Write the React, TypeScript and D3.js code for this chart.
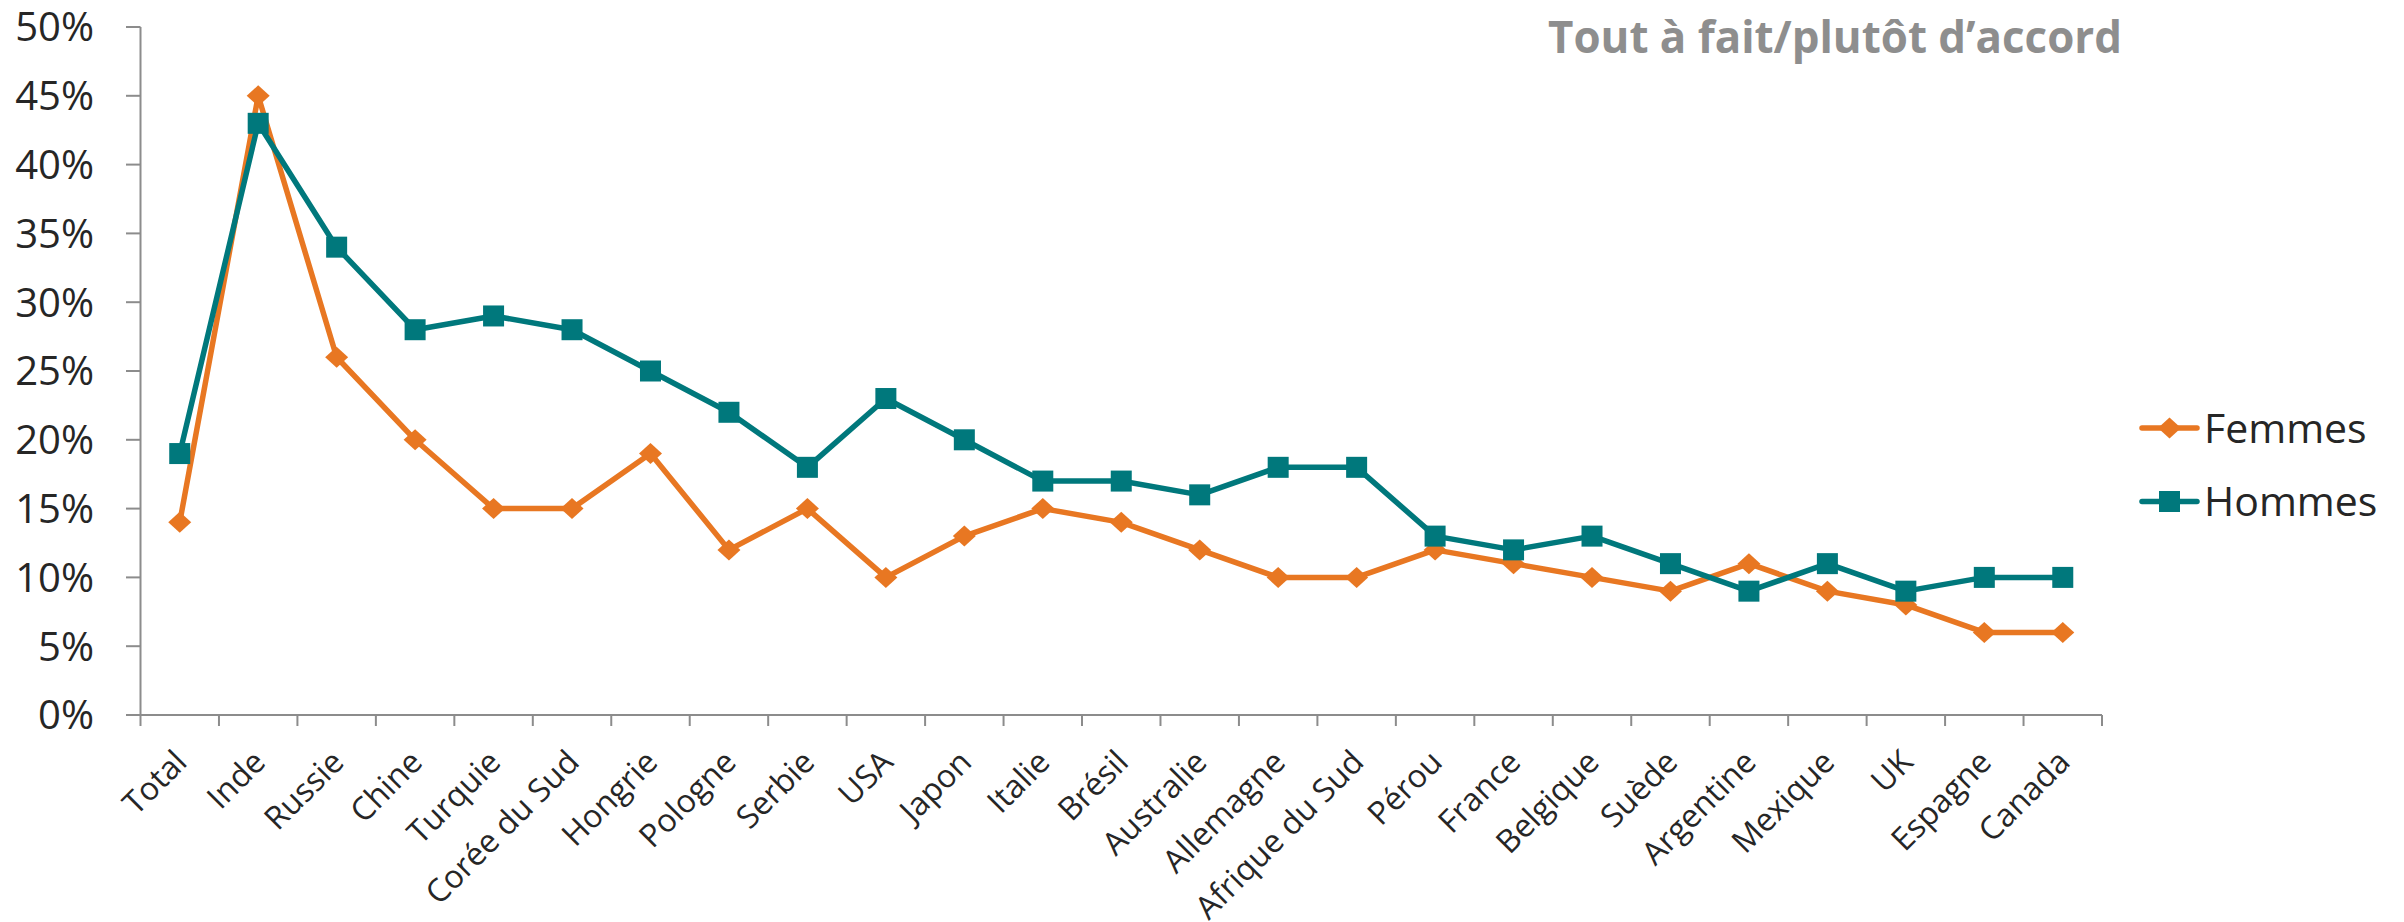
import * as d3 from "d3";

const categories = [
  "Total", "Inde", "Russie", "Chine", "Turquie", "Corée du Sud", "Hongrie",
  "Pologne", "Serbie", "USA", "Japon", "Italie", "Brésil", "Australie",
  "Allemagne", "Afrique du Sud", "Pérou", "France", "Belgique", "Suède",
  "Argentine", "Mexique", "UK", "Espagne", "Canada",
];

const femmes = [14, 45, 26, 20, 15, 15, 19, 12, 15, 10, 13, 15, 14, 12, 10, 10, 12, 11, 10, 9, 11, 9, 8, 6, 6];
const hommes = [19, 43, 34, 28, 29, 28, 25, 22, 18, 23, 20, 17, 17, 16, 18, 18, 13, 12, 13, 11, 9, 11, 9, 10, 10];

const yTicks = [0, 5, 10, 15, 20, 25, 30, 35, 40, 45, 50];

const title = "Tout à fait/plutôt d’accord";

const ORANGE = "#E87722";
const TEAL = "#00787C";
const AXIS = "#8C8C8C";
const TEXT = "#262626";
const FONT = "'Open Sans', 'Noto Sans', sans-serif";

const width = 2404;
const height = 922;
const left = 140.5;
const right = 2102;
const top = 27;
const bottom = 715;

function diamond(cx: number, cy: number, r: number) {
  return `M${cx},${cy - r}L${cx + r + 1},${cy}L${cx},${cy + r}L${cx - r - 1},${cy}Z`;
}

export default function App() {
  const x = d3.scaleBand<string>().domain(categories).range([left, right]).padding(0);
  const y = d3.scaleLinear().domain([0, 50]).range([bottom, top]);
  const cx = (c: string) => (x(c) ?? 0) + x.bandwidth() / 2;

  const line = d3
    .line<number>()
    .x((_, i) => cx(categories[i]))
    .y((d) => y(d));

  const series = [
    { name: "Femmes", values: femmes, color: ORANGE, shape: "diamond" },
    { name: "Hommes", values: hommes, color: TEAL, shape: "square" },
  ];

  const bounds = categories.map((c) => x(c) ?? 0).concat([right]);

  return (
    <svg
      width={width}
      height={height}
      style={{ position: "absolute", left: 0, top: 0, background: "#fff" }}
      fontFamily={FONT}
    >
      {/* y axis */}
      <line x1={left} x2={left} y1={top} y2={bottom} stroke={AXIS} strokeWidth={2} />
      {yTicks.map((t) => (
        <g key={t}>
          <line x1={126} x2={left} y1={y(t)} y2={y(t)} stroke={AXIS} strokeWidth={2} />
          <text x={94} y={y(t)} dy="0.36em" textAnchor="end" fontSize={40} fill={TEXT}>
            {t}%
          </text>
        </g>
      ))}

      {/* x axis */}
      <line x1={left} x2={right} y1={bottom} y2={bottom} stroke={AXIS} strokeWidth={2} />
      {bounds.map((b, i) => (
        <line key={i} x1={b} x2={b} y1={bottom} y2={bottom + 11} stroke={AXIS} strokeWidth={2} />
      ))}
      {categories.map((c) => (
        <text
          key={c}
          transform={`translate(${cx(c) + 9},${764}) rotate(-45)`}
          textAnchor="end"
          fontSize={32}
          fill={TEXT}
        >
          {c}
        </text>
      ))}

      {/* series */}
      {series.map((s) => (
        <g key={s.name}>
          <path d={line(s.values) ?? ""} fill="none" stroke={s.color} strokeWidth={5.5} strokeLinejoin="round" />
          {s.values.map((v, i) =>
            s.shape === "square" ? (
              <rect key={i} x={cx(categories[i]) - 10.5} y={y(v) - 10.5} width={21} height={21} fill={s.color} />
            ) : (
              <path key={i} d={diamond(cx(categories[i]), y(v), 10.5)} fill={s.color} />
            )
          )}
        </g>
      ))}

      {/* title */}
      <text
        x={1548}
        y={53}
        fontSize={44}
        fontWeight="bold"
        fill="#8E8E8E"
        textLength={574}
        lengthAdjust="spacingAndGlyphs"
      >
        {title}
      </text>

      {/* legend */}
      {series.map((s, i) => {
        const ly = 428 + i * 73.5;
        return (
          <g key={s.name}>
            <line x1={2142} x2={2197} y1={ly} y2={ly} stroke={s.color} strokeWidth={5.5} strokeLinecap="round" />
            {s.shape === "square" ? (
              <rect x={2159} y={ly - 10.5} width={21} height={21} fill={s.color} />
            ) : (
              <path d={diamond(2169.5, ly, 10.5)} fill={s.color} />
            )}
            <text x={2204} y={ly} dy="0.36em" fontSize={41} fill={TEXT}>
              {s.name}
            </text>
          </g>
        );
      })}
    </svg>
  );
}
